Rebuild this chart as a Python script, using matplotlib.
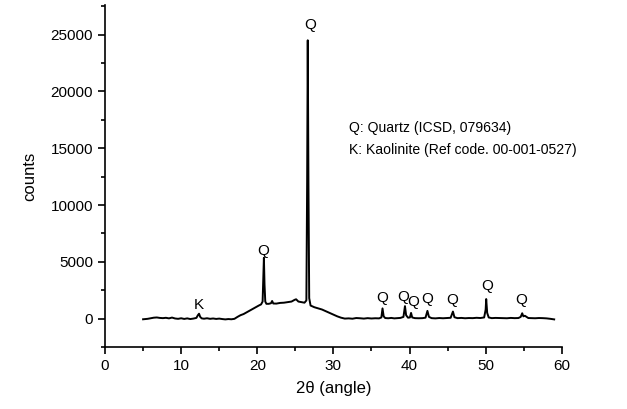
import matplotlib
matplotlib.use("Agg")
import matplotlib.pyplot as plt
from matplotlib.ticker import MultipleLocator

plt.rcParams['font.family'] = ['Liberation Sans', 'DejaVu Sans']

two_theta = [5.0, 5.3, 5.6, 6.0, 6.4, 6.8, 7.2, 7.6, 8.0, 8.4, 8.8, 9.2, 9.6, 10.0, 10.4,
             10.8, 11.2, 11.6, 12.0, 12.2, 12.35, 12.5, 12.7, 13.0, 13.4, 13.8, 14.2, 14.6,
             15.0, 15.4, 15.8, 16.2, 16.6, 17.0, 17.4, 17.8, 18.2, 18.6, 19.0, 19.4, 19.8,
             20.2, 20.5, 20.7, 20.8, 20.87, 20.95, 21.05, 21.2, 21.5, 21.8, 21.95, 22.1,
             22.5, 23.0, 23.5, 24.0, 24.5, 24.9, 25.1, 25.4, 25.8, 26.2, 26.45, 26.55,
             26.63, 26.72, 26.82, 27.0, 27.5, 28.0, 28.5, 29.0, 29.5, 30.0, 30.5, 31.0,
             31.5, 32.0, 32.5, 33.0, 33.5, 34.0, 34.5, 35.0, 35.5, 36.0, 36.3, 36.45, 36.6,
             36.8, 37.2, 37.6, 38.0, 38.4, 38.8, 39.2, 39.4, 39.55, 39.8, 40.05, 40.2, 40.35,
             40.7, 41.2, 41.7, 42.1, 42.35, 42.55, 42.9, 43.4, 43.9, 44.4, 44.9, 45.4, 45.7,
             45.9, 46.3, 46.8, 47.3, 47.8, 48.3, 48.8, 49.3, 49.8, 50.0, 50.07, 50.2, 50.4,
             50.8, 51.3, 51.8, 52.3, 52.8, 53.3, 53.8, 54.3, 54.6, 54.8, 54.95, 55.15, 55.3,
             55.6, 56.0, 56.5, 57.0, 57.5, 58.0, 58.5, 59.0]
counts = [-60, -40, -20, 30, 80, 100, 60, 40, 70, 20, 90, 10, -20, 30, -30,
          20, -40, 0, 60, 300, 430, 150, 20, -10, 30, -20, 10, -30,
          0, -40, -70, -40, -60, -20, 150, 300, 400, 550, 700, 850, 1000,
          1150, 1250, 1500, 3800, 5350, 3000, 1500, 1300, 1300, 1350, 1550, 1330,
          1320, 1380, 1400, 1450, 1500, 1650, 1700, 1500, 1450, 1400, 1600, 12000,
          24500, 12000, 1800, 1150, 1000, 900, 800, 650, 500, 350, 200, 80,
          0, 20, -10, 50, 30, 0, 40, 10, 30, 20, 100, 900, 200,
          50, 30, 60, 20, 40, 60, 150, 1100, 300, 80, 100, 500, 100,
          40, 30, 40, 80, 680, 150, 40, 20, 50, 30, 50, 70, 620,
          120, 40, 60, 30, 50, 40, 70, 50, 100, 800, 1720, 500, 100,
          40, 60, 50, 40, 30, 60, 40, 50, 150, 470, 200, 250, 180,
          50, 40, 30, 50, 40, 20, -20, -70]

label_text = ['K', 'Q', 'Q', 'Q', 'Q', 'Q', 'Q', 'Q', 'Q', 'Q']
label_x = [12.26, 20.76, 26.94, 36.44, 39.16, 40.5, 42.31, 45.64, 50.2, 54.67]
label_y = [1235, 5940, 25850, 1825, 1940, 1440, 1700, 1650, 2910, 1650]

legend_lines = ['Q: Quartz (ICSD, 079634)', 'K: Kaolinite (Ref code. 00-001-0527)']

fig = plt.figure(figsize=(6.27, 4.09), dpi=100)
ax = fig.add_axes([0.1675, 0.1516, 0.7285, 0.836])
ax.plot(two_theta, counts, color='black', lw=1.4)

for t, x, y in zip(label_text, label_x, label_y):
    ax.text(x, y, t, ha='center', va='center', fontsize=11)

ax.text(0.534, 0.640, legend_lines[0], transform=ax.transAxes, fontsize=10.1,
        ha='left', va='center')
ax.text(0.534, 0.576, legend_lines[1], transform=ax.transAxes, fontsize=10.1,
        ha='left', va='center')

ax.set_xlim(0, 60)
ax.set_ylim(-2500, 27600)
ax.xaxis.set_major_locator(MultipleLocator(10))
ax.xaxis.set_minor_locator(MultipleLocator(5))
ax.yaxis.set_major_locator(MultipleLocator(5000))
ax.yaxis.set_minor_locator(MultipleLocator(2500))
ax.set_yticks([0, 5000, 10000, 15000, 20000, 25000])
ax.spines['top'].set_visible(False)
ax.spines['right'].set_visible(False)
for s in ['left', 'bottom']:
    ax.spines[s].set_linewidth(1.2)
ax.tick_params(which='major', direction='out', length=5, width=1.2, labelsize=11)
ax.tick_params(which='minor', direction='out', length=3, width=1.2)
ax.set_xlabel('2θ (angle)', fontsize=12, labelpad=6)
ax.set_ylabel('counts', fontsize=12, labelpad=10)

fig.savefig('out.png', dpi=100)
